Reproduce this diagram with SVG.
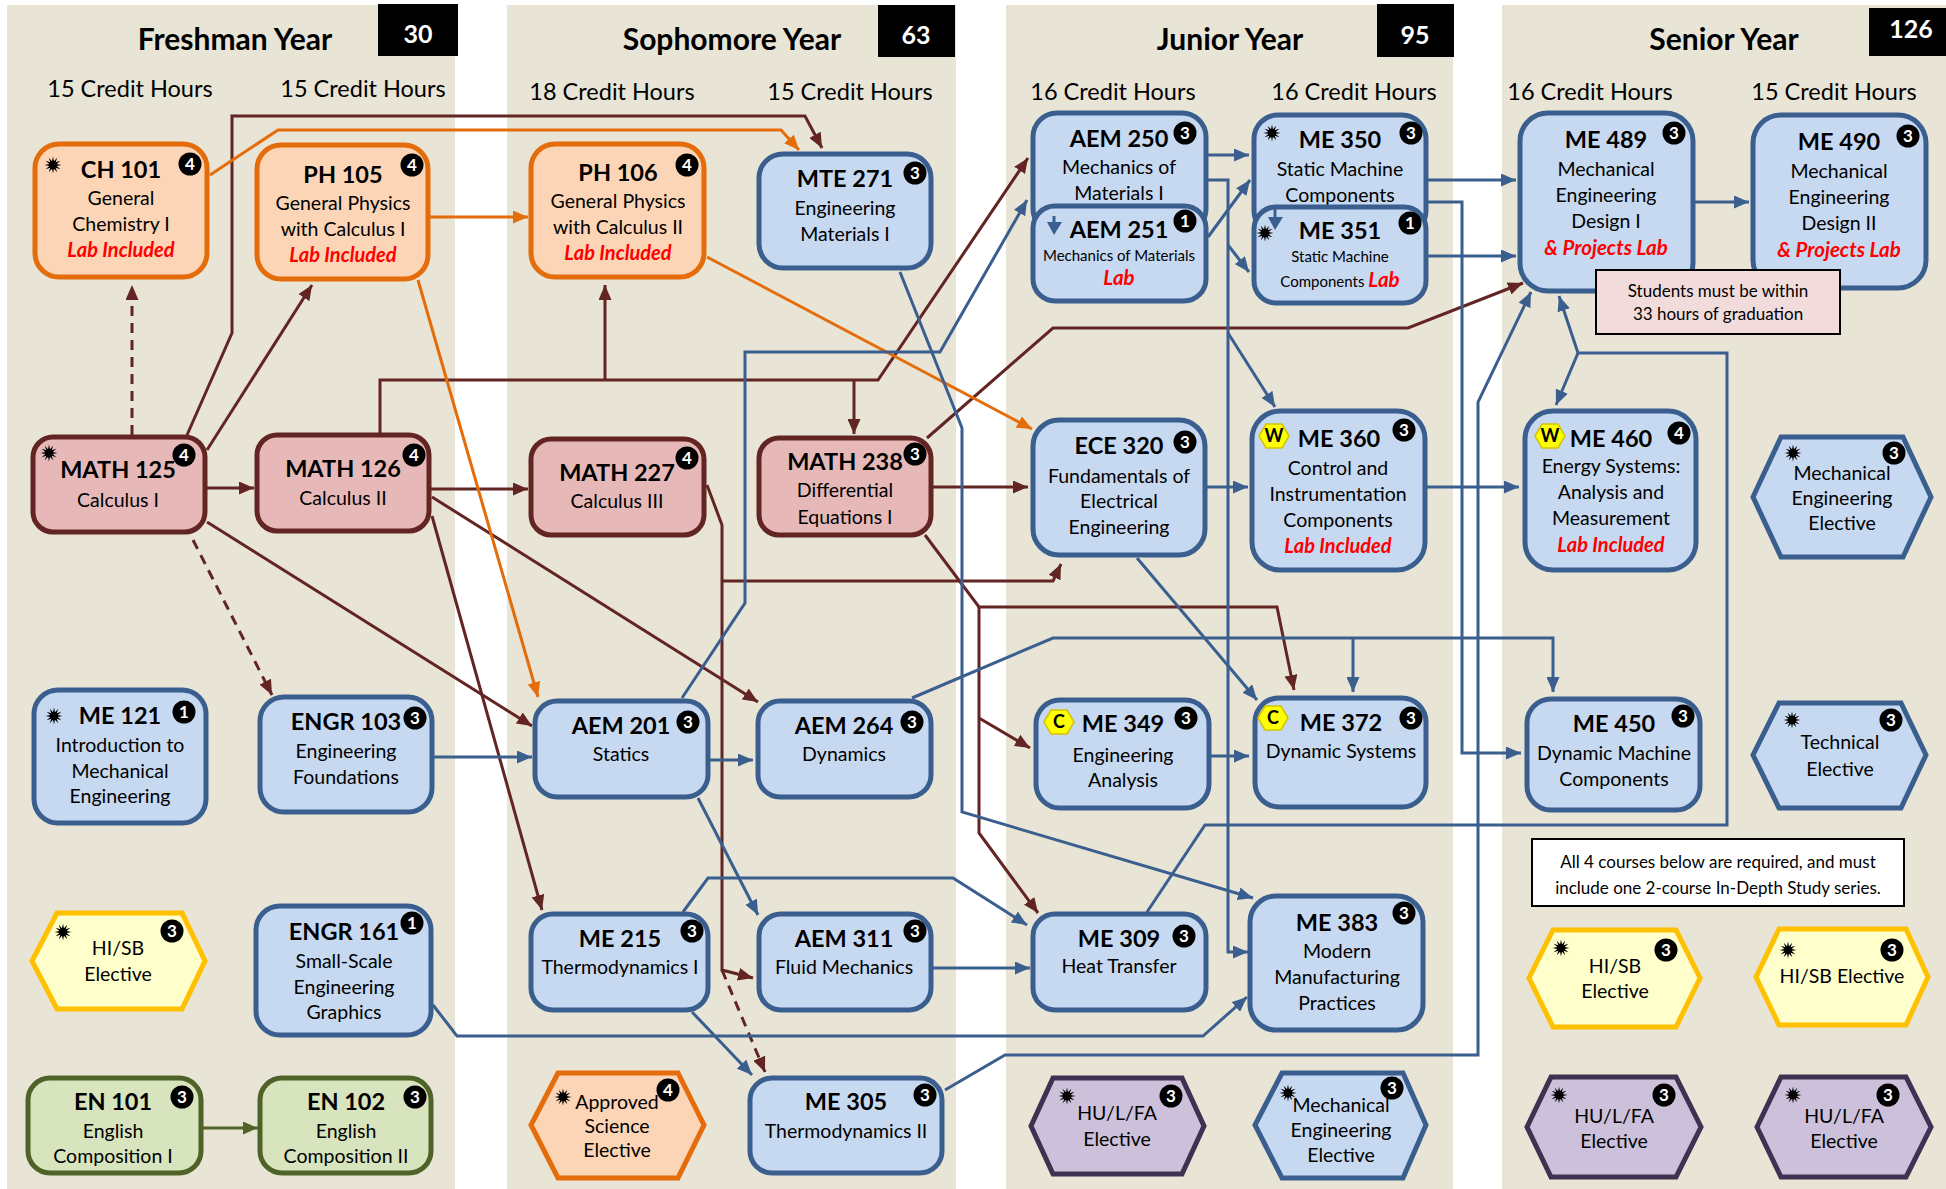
<svg xmlns="http://www.w3.org/2000/svg" width="1946" height="1189" viewBox="0 0 1946 1189">
<style>
.bg{fill:#E8E4D6}
.t{font-family:Lato,'Open Sans',sans-serif;text-anchor:middle;fill:#000}
.hd{font-size:30px;font-weight:700}
.cr{font-size:23.5px}
.tot{font-size:25px;font-weight:700;fill:#fff}
.c{font-size:23.5px;font-weight:700}
.s{font-size:19.5px}
.xs{font-size:15px}
.lab{font-size:20px;font-weight:700;font-style:italic;fill:#f00}
.labL{font-size:20.5px;font-weight:700;font-style:italic;fill:#f00}
.nt{font-size:17px}
.nb{fill:#C6D9F1;stroke:#3A5F8E;stroke-width:5}
.no{fill:#FBD5B5;stroke:#E46C0A;stroke-width:5}
.nm{fill:#E6B9B8;stroke:#632523;stroke-width:5}
.ng{fill:#D7E4BD;stroke:#4F6228;stroke-width:5}
.ny{fill:#FFFFCC;stroke:#FFC000;stroke-width:5}
.np{fill:#CCC0DA;stroke:#3F3151;stroke-width:5}
.bd{fill:#000}
.bn{font-family:Lato,'Open Sans',sans-serif;font-size:17px;font-weight:700;fill:#fff;text-anchor:middle}
.hx{fill:#FFFF00;stroke:#D4C400;stroke-width:1.5}
.hl{font-size:18px;font-weight:700}
.cm{fill:none;stroke:#632523;stroke-width:3}
.co{fill:none;stroke:#E46C0A;stroke-width:3}
.cb{fill:none;stroke:#3A5F8E;stroke-width:3}
.cg{fill:none;stroke:#4F6228;stroke-width:3}
.d{stroke-dasharray:10 7}
.am{marker-end:url(#am)}
.ao{marker-end:url(#ao)}
.ab{marker-end:url(#ab)}
.ag{marker-end:url(#ag)}
.note{fill:#F2DCDB;stroke:#000;stroke-width:2}
.note2{fill:#fff;stroke:#000;stroke-width:2}
</style>
<defs>
<marker id="am" viewBox="0 0 10 10" refX="10" refY="5" markerWidth="15" markerHeight="13" markerUnits="userSpaceOnUse" orient="auto" preserveAspectRatio="none"><path d="M0,0L10,5L0,10z" fill="#632523"/></marker>
<marker id="ao" viewBox="0 0 10 10" refX="10" refY="5" markerWidth="15" markerHeight="13" markerUnits="userSpaceOnUse" orient="auto" preserveAspectRatio="none"><path d="M0,0L10,5L0,10z" fill="#E46C0A"/></marker>
<marker id="ab" viewBox="0 0 10 10" refX="10" refY="5" markerWidth="15" markerHeight="13" markerUnits="userSpaceOnUse" orient="auto" preserveAspectRatio="none"><path d="M0,0L10,5L0,10z" fill="#3A5F8E"/></marker>
<marker id="ag" viewBox="0 0 10 10" refX="10" refY="5" markerWidth="15" markerHeight="13" markerUnits="userSpaceOnUse" orient="auto" preserveAspectRatio="none"><path d="M0,0L10,5L0,10z" fill="#4F6228"/></marker>
<polygon id="star" fill="#000" points="8.5,0 3.67,0.98 7.36,4.25 2.69,2.69 4.25,7.36 0.98,3.67 0,8.5 -0.98,3.67 -4.25,7.36 -2.69,2.69 -7.36,4.25 -3.67,0.98 -8.5,0 -3.67,-0.98 -7.36,-4.25 -2.69,-2.69 -4.25,-7.36 -0.98,-3.67 0,-8.5 0.98,-3.67 4.25,-7.36 2.69,-2.69 7.36,-4.25 3.67,-0.98"/>
</defs>
<rect width="1946" height="1189" fill="#fff"/>
<g id="columns">
<rect class="bg" x="7" y="5" width="448" height="1184"/>
<rect class="bg" x="507" y="5" width="449" height="1184"/>
<rect class="bg" x="1006" y="5" width="447" height="1184"/>
<rect class="bg" x="1502" y="5" width="444" height="1184"/>
<rect x="378" y="4" width="80" height="52" fill="#000"/>
<rect x="878" y="5" width="77" height="52" fill="#000"/>
<rect x="1377" y="4" width="77" height="53" fill="#000"/>
<rect x="1869" y="8" width="77" height="48" fill="#000"/>
<text class="t tot" x="418" y="43">30</text>
<text class="t tot" x="916" y="44">63</text>
<text class="t tot" x="1415" y="44">95</text>
<text class="t tot" x="1911" y="38">126</text>
<text class="t hd" x="235" y="50">Freshman Year</text>
<text class="t hd" x="732" y="50">Sophomore Year</text>
<text class="t hd" x="1230" y="50">Junior Year</text>
<text class="t hd" x="1724" y="50">Senior Year</text>
<text class="t cr" x="130" y="97">15 Credit Hours</text>
<text class="t cr" x="363" y="97">15 Credit Hours</text>
<text class="t cr" x="612" y="100">18 Credit Hours</text>
<text class="t cr" x="850" y="100">15 Credit Hours</text>
<text class="t cr" x="1113" y="100">16 Credit Hours</text>
<text class="t cr" x="1354" y="100">16 Credit Hours</text>
<text class="t cr" x="1590" y="100">16 Credit Hours</text>
<text class="t cr" x="1834" y="100">15 Credit Hours</text>
</g>
<g id="connectors">
<path class="cm am" d="M187,435 L232,333 L232,116 L805,116 L822,148"/>
<path class="cm am" d="M207,450 L312,285"/>
<path class="cm am d" d="M132,435 L132,285"/>
<path class="cm am" d="M207,488 L254,488"/>
<path class="cm am d" d="M193,540 L272,695"/>
<path class="cm am" d="M207,522 L532,726"/>
<path class="cm am" d="M380,433 L380,380 L878,380 L1028,158"/>
<path class="cm am" d="M605,380 L605,285"/>
<path class="cm am" d="M854,380 L854,434"/>
<path class="cm am" d="M431,489 L528,489"/>
<path class="cm am" d="M432,497 L758,702"/>
<path class="cm am" d="M432,516 L542,910"/>
<path class="cm am" d="M707,485 L722,525 L722,970 L753,978"/>
<path class="cm am" d="M722,581 L1053,581 L1061,564"/>
<path class="cm am d" d="M722,970 L765,1072"/>
<path class="cm am" d="M927,438 L1053,328 L1408,328 L1523,283"/>
<path class="cm am" d="M933,487 L1028,487"/>
<path class="cm am" d="M925,535 L979,607 L1277,607 L1294,690"/>
<path class="cm am" d="M979,607 L979,833 L1038,913"/>
<path class="cm am" d="M979,718 L1030,748"/>
<path class="co ao" d="M210,175 L278,130 L781,130 L799,150"/>
<path class="co ao" d="M430,217 L528,217"/>
<path class="co ao" d="M418,280 L538,697"/>
<path class="co ao" d="M707,257 L1032,429"/>
<path class="cb ab" d="M900,272 L962,428 L962,812 L1253,898"/>
<path class="cb ab" d="M682,698 L745,603 L745,352 L940,352 L1027,200"/>
<path class="cb ab" d="M710,760 L753,760"/>
<path class="cb ab" d="M434,757 L532,757"/>
<path class="cb ab" d="M698,798 L758,915"/>
<path class="cb ab" d="M912,698 L1053,638 L1553,638 L1553,692"/>
<path class="cb ab" d="M1353,638 L1353,692"/>
<path class="cb ab" d="M1207,487 L1248,487"/>
<path class="cb ab" d="M1137,558 L1257,700"/>
<path class="cb ab" d="M1211,756 L1249,756"/>
<path class="cb ab" d="M1427,487 L1519,487"/>
<path class="cb ab" d="M1208,155 L1249,155"/>
<path class="cb ab" d="M1208,180 L1228,180 L1228,952 L1248,952"/>
<path class="cb ab" d="M1228,245 L1249,272"/>
<path class="cb ab" d="M1228,333 L1275,407"/>
<path class="cb ab" d="M1208,237 L1250,180"/>
<path class="cb ab" d="M1428,180 L1516,180"/>
<path class="cb ab" d="M1428,202 L1462,202 L1462,753 L1521,753"/>
<path class="cb ab" d="M1428,256 L1516,256"/>
<path class="cb ab" d="M1695,202 L1749,202"/>
<path class="cb ab" d="M1147,912 L1205,825 L1727,825 L1727,353 L1578,353 L1559,296"/>
<path class="cb ab" d="M1578,353 L1556,405"/>
<path class="cb ab" d="M945,1090 L1005,1055 L1478,1055 L1478,402 L1531,292"/>
<path class="cb ab" d="M683,912 L708,878 L953,878 L1027,925"/>
<path class="cb ab" d="M692,1012 L752,1075"/>
<path class="cb ab" d="M933,968 L1030,968"/>
<path class="cb ab" d="M433,1005 L457,1036 L1203,1036 L1247,997"/>
<path class="cg ag" d="M203,1128 L258,1128"/>
</g>
<g id="CH101">
<rect class="no" x="35" y="144" width="172" height="133" rx="24"/>
<use href="#star" x="53" y="165"/>
<circle class="bd" cx="190" cy="164" r="11.5"/><text class="bn" x="190" y="170">4</text>
<text class="t c" x="121" y="178">CH 101</text>
<text class="t s" x="121" y="205">General</text>
<text class="t s" x="121" y="231">Chemistry I</text>
<text class="t lab" x="121" y="257">Lab Included</text>
</g>
<g id="PH105">
<rect class="no" x="257" y="145" width="171" height="134" rx="24"/>
<circle class="bd" cx="412" cy="165" r="11.5"/><text class="bn" x="412" y="171">4</text>
<text class="t c" x="343" y="183">PH 105</text>
<text class="t s" x="343" y="210">General Physics</text>
<text class="t s" x="343" y="236">with Calculus I</text>
<text class="t lab" x="343" y="262">Lab Included</text>
</g>
<g id="PH106">
<rect class="no" x="531" y="144" width="173" height="133" rx="24"/>
<circle class="bd" cx="687" cy="165" r="11.5"/><text class="bn" x="687" y="171">4</text>
<text class="t c" x="618" y="181">PH 106</text>
<text class="t s" x="618" y="208">General Physics</text>
<text class="t s" x="618" y="234">with Calculus II</text>
<text class="t lab" x="618" y="260">Lab Included</text>
</g>
<g id="MTE271">
<rect class="nb" x="759" y="154" width="172" height="114" rx="24"/>
<circle class="bd" cx="915" cy="173" r="11.5"/><text class="bn" x="915" y="179">3</text>
<text class="t c" x="845" y="187">MTE 271</text>
<text class="t s" x="845" y="215">Engineering</text>
<text class="t s" x="845" y="241">Materials I</text>
</g>
<g id="AEM250">
<rect class="nb" x="1033" y="113" width="173" height="120" rx="24"/>
<circle class="bd" cx="1185" cy="133" r="11.5"/><text class="bn" x="1185" y="139">3</text>
<text class="t c" x="1119" y="147">AEM 250</text>
<text class="t s" x="1119" y="174">Mechanics of</text>
<text class="t s" x="1119" y="200">Materials I</text>
</g>
<g id="AEM251">
<rect class="nb" x="1033" y="206" width="173" height="95" rx="22"/>
<path d="M1054,216 L1054,223" stroke="#3A5F8E" stroke-width="3"/>
<polygon points="1047,222 1062,222 1054,235" fill="#3A5F8E"/>
<circle class="bd" cx="1185" cy="221" r="11.5"/><text class="bn" x="1185" y="227">1</text>
<text class="t c" x="1119" y="238">AEM 251</text>
<text class="t xs" x="1119" y="261">Mechanics of Materials</text>
<text class="t labL" x="1119" y="285">Lab</text>
</g>
<g id="ME350">
<rect class="nb" x="1254" y="115" width="172" height="120" rx="24"/>
<use href="#star" x="1272" y="133"/>
<circle class="bd" cx="1411" cy="133" r="11.5"/><text class="bn" x="1411" y="139">3</text>
<text class="t c" x="1340" y="148">ME 350</text>
<text class="t s" x="1340" y="176">Static Machine</text>
<text class="t s" x="1340" y="202">Components</text>
</g>
<g id="ME351">
<rect class="nb" x="1254" y="207" width="172" height="96" rx="22"/>
<path d="M1275,207 L1275,218" stroke="#3A5F8E" stroke-width="3"/>
<polygon points="1268,217 1283,217 1275,230" fill="#3A5F8E"/>
<use href="#star" x="1265" y="233"/>
<circle class="bd" cx="1410" cy="223" r="11.5"/><text class="bn" x="1410" y="229">1</text>
<text class="t c" x="1340" y="239">ME 351</text>
<text class="t xs" x="1340" y="262">Static Machine</text>
<text class="t" x="1340" y="287"><tspan class="xs">Components </tspan><tspan class="labL">Lab</tspan></text>
</g>
<g id="ME489">
<rect class="nb" x="1520" y="113" width="173" height="178" rx="28"/>
<circle class="bd" cx="1674" cy="133" r="11.5"/><text class="bn" x="1674" y="139">3</text>
<text class="t c" x="1606" y="148">ME 489</text>
<text class="t s" x="1606" y="176">Mechanical</text>
<text class="t s" x="1606" y="202">Engineering</text>
<text class="t s" x="1606" y="228">Design I</text>
<text class="t labL" x="1606" y="255">&amp; Projects Lab</text>
</g>
<g id="ME490">
<rect class="nb" x="1753" y="115" width="173" height="173" rx="28"/>
<circle class="bd" cx="1908" cy="136" r="11.5"/><text class="bn" x="1908" y="142">3</text>
<text class="t c" x="1839" y="150">ME 490</text>
<text class="t s" x="1839" y="178">Mechanical</text>
<text class="t s" x="1839" y="204">Engineering</text>
<text class="t s" x="1839" y="230">Design II</text>
<text class="t labL" x="1839" y="257">&amp; Projects Lab</text>
</g>
<g id="note-grad">
<rect class="note" x="1596" y="270" width="244" height="64"/>
<text class="t nt" x="1718" y="297">Students must be within</text>
<text class="t nt" x="1718" y="320">33 hours of graduation</text>
</g>
<g id="MATH125">
<rect class="nm" x="33" y="437" width="172" height="95" rx="20"/>
<use href="#star" x="49" y="453"/>
<circle class="bd" cx="184" cy="455" r="11.5"/><text class="bn" x="184" y="461">4</text>
<text class="t c" x="118" y="478">MATH 125</text>
<text class="t s" x="118" y="507">Calculus I</text>
</g>
<g id="MATH126">
<rect class="nm" x="257" y="435" width="172" height="96" rx="20"/>
<circle class="bd" cx="414" cy="455" r="11.5"/><text class="bn" x="414" y="461">4</text>
<text class="t c" x="343" y="477">MATH 126</text>
<text class="t s" x="343" y="505">Calculus II</text>
</g>
<g id="MATH227">
<rect class="nm" x="531" y="439" width="173" height="96" rx="20"/>
<circle class="bd" cx="687" cy="458" r="11.5"/><text class="bn" x="687" y="464">4</text>
<text class="t c" x="617" y="481">MATH 227</text>
<text class="t s" x="617" y="508">Calculus III</text>
</g>
<g id="MATH238">
<rect class="nm" x="759" y="438" width="172" height="97" rx="20"/>
<circle class="bd" cx="915" cy="454" r="11.5"/><text class="bn" x="915" y="460">3</text>
<text class="t c" x="845" y="470">MATH 238</text>
<text class="t s" x="845" y="497">Differential</text>
<text class="t s" x="845" y="524">Equations I</text>
</g>
<g id="ECE320">
<rect class="nb" x="1033" y="420" width="172" height="135" rx="26"/>
<circle class="bd" cx="1185" cy="442" r="11.5"/><text class="bn" x="1185" y="448">3</text>
<text class="t c" x="1119" y="454">ECE 320</text>
<text class="t s" x="1119" y="483">Fundamentals of</text>
<text class="t s" x="1119" y="508">Electrical</text>
<text class="t s" x="1119" y="534">Engineering</text>
</g>
<g id="ME360">
<rect class="nb" x="1252" y="411" width="173" height="159" rx="28"/>
<polygon class="hx" points="1259,436 1266,424 1282,424 1289,436 1282,448 1266,448"/>
<text class="t hl" x="1274" y="442">W</text>
<circle class="bd" cx="1404" cy="430" r="11.5"/><text class="bn" x="1404" y="436">3</text>
<text class="t c" x="1339" y="447">ME 360</text>
<text class="t s" x="1338" y="475">Control and</text>
<text class="t s" x="1338" y="501">Instrumentation</text>
<text class="t s" x="1338" y="527">Components</text>
<text class="t lab" x="1338" y="553">Lab Included</text>
</g>
<g id="ME460">
<rect class="nb" x="1525" y="411" width="171" height="159" rx="28"/>
<polygon class="hx" points="1535,436 1542,424 1558,424 1565,436 1558,448 1542,448"/>
<text class="t hl" x="1550" y="442">W</text>
<circle class="bd" cx="1679" cy="433" r="11.5"/><text class="bn" x="1679" y="439">4</text>
<text class="t c" x="1611" y="447">ME 460</text>
<text class="t s" x="1611" y="473">Energy Systems:</text>
<text class="t s" x="1611" y="499">Analysis and</text>
<text class="t s" x="1611" y="525">Measurement</text>
<text class="t lab" x="1611" y="552">Lab Included</text>
</g>
<g id="MechElec-sr">
<polygon class="nb" points="1753,497 1781,437 1903,437 1931,497 1903,557 1781,557"/>
<use href="#star" x="1793" y="453"/>
<circle class="bd" cx="1894" cy="453" r="11.5"/><text class="bn" x="1894" y="459">3</text>
<text class="t s" x="1842" y="480">Mechanical</text>
<text class="t s" x="1842" y="505">Engineering</text>
<text class="t s" x="1842" y="530">Elective</text>
</g>
<g id="ME121">
<rect class="nb" x="34" y="690" width="172" height="133" rx="24"/>
<use href="#star" x="54" y="716"/>
<circle class="bd" cx="184" cy="712" r="11.5"/><text class="bn" x="184" y="718">1</text>
<text class="t c" x="120" y="724">ME 121</text>
<text class="t s" x="120" y="752">Introduction to</text>
<text class="t s" x="120" y="778">Mechanical</text>
<text class="t s" x="120" y="803">Engineering</text>
</g>
<g id="ENGR103">
<rect class="nb" x="260" y="697" width="172" height="115" rx="24"/>
<circle class="bd" cx="415" cy="718" r="11.5"/><text class="bn" x="415" y="724">3</text>
<text class="t c" x="346" y="730">ENGR 103</text>
<text class="t s" x="346" y="758">Engineering</text>
<text class="t s" x="346" y="784">Foundations</text>
</g>
<g id="AEM201">
<rect class="nb" x="535" y="701" width="173" height="96" rx="22"/>
<circle class="bd" cx="688" cy="722" r="11.5"/><text class="bn" x="688" y="728">3</text>
<text class="t c" x="621" y="734">AEM 201</text>
<text class="t s" x="621" y="761">Statics</text>
</g>
<g id="AEM264">
<rect class="nb" x="758" y="701" width="173" height="96" rx="22"/>
<circle class="bd" cx="912" cy="722" r="11.5"/><text class="bn" x="912" y="728">3</text>
<text class="t c" x="844" y="734">AEM 264</text>
<text class="t s" x="844" y="761">Dynamics</text>
</g>
<g id="ME349">
<rect class="nb" x="1036" y="700" width="173" height="108" rx="24"/>
<polygon class="hx" points="1044,722 1051,710 1067,710 1074,722 1067,734 1051,734"/>
<text class="t hl" x="1059" y="728">C</text>
<circle class="bd" cx="1186" cy="718" r="11.5"/><text class="bn" x="1186" y="724">3</text>
<text class="t c" x="1123" y="732">ME 349</text>
<text class="t s" x="1123" y="762">Engineering</text>
<text class="t s" x="1123" y="787">Analysis</text>
</g>
<g id="ME372">
<rect class="nb" x="1255" y="698" width="171" height="109" rx="24"/>
<polygon class="hx" points="1258,718 1265,706 1281,706 1288,718 1281,730 1265,730"/>
<text class="t hl" x="1273" y="724">C</text>
<circle class="bd" cx="1411" cy="718" r="11.5"/><text class="bn" x="1411" y="724">3</text>
<text class="t c" x="1341" y="731">ME 372</text>
<text class="t s" x="1341" y="758">Dynamic Systems</text>
</g>
<g id="ME450">
<rect class="nb" x="1527" y="699" width="173" height="111" rx="24"/>
<circle class="bd" cx="1683" cy="716" r="11.5"/><text class="bn" x="1683" y="722">3</text>
<text class="t c" x="1614" y="732">ME 450</text>
<text class="t s" x="1614" y="760">Dynamic Machine</text>
<text class="t s" x="1614" y="786">Components</text>
</g>
<g id="TechElec">
<polygon class="nb" points="1753,755 1779,703 1901,703 1926,755 1901,808 1779,808"/>
<use href="#star" x="1792" y="720"/>
<circle class="bd" cx="1891" cy="720" r="11.5"/><text class="bn" x="1891" y="726">3</text>
<text class="t s" x="1840" y="749">Technical</text>
<text class="t s" x="1840" y="776">Elective</text>
</g>
<g id="HISB-fr">
<polygon class="ny" points="32,961 57,913 182,913 205,961 182,1009 57,1009"/>
<use href="#star" x="63" y="932"/>
<circle class="bd" cx="172" cy="931" r="11.5"/><text class="bn" x="172" y="937">3</text>
<text class="t s" x="118" y="955">HI/SB</text>
<text class="t s" x="118" y="981">Elective</text>
</g>
<g id="ENGR161">
<rect class="nb" x="256" y="906" width="175" height="129" rx="24"/>
<circle class="bd" cx="412" cy="923" r="11.5"/><text class="bn" x="412" y="929">1</text>
<text class="t c" x="344" y="940">ENGR 161</text>
<text class="t s" x="344" y="968">Small-Scale</text>
<text class="t s" x="344" y="994">Engineering</text>
<text class="t s" x="344" y="1019">Graphics</text>
</g>
<g id="ME215">
<rect class="nb" x="531" y="914" width="177" height="96" rx="22"/>
<circle class="bd" cx="692" cy="931" r="11.5"/><text class="bn" x="692" y="937">3</text>
<text class="t c" x="620" y="947">ME 215</text>
<text class="t s" x="620" y="974">Thermodynamics I</text>
</g>
<g id="AEM311">
<rect class="nb" x="759" y="914" width="172" height="96" rx="22"/>
<circle class="bd" cx="915" cy="931" r="11.5"/><text class="bn" x="915" y="937">3</text>
<text class="t c" x="844" y="947">AEM 311</text>
<text class="t s" x="844" y="974">Fluid Mechanics</text>
</g>
<g id="ME309">
<rect class="nb" x="1033" y="914" width="173" height="96" rx="22"/>
<circle class="bd" cx="1184" cy="936" r="11.5"/><text class="bn" x="1184" y="942">3</text>
<text class="t c" x="1119" y="947">ME 309</text>
<text class="t s" x="1119" y="973">Heat Transfer</text>
</g>
<g id="ME383">
<rect class="nb" x="1250" y="896" width="173" height="134" rx="26"/>
<circle class="bd" cx="1404" cy="913" r="11.5"/><text class="bn" x="1404" y="919">3</text>
<text class="t c" x="1337" y="931">ME 383</text>
<text class="t s" x="1337" y="958">Modern</text>
<text class="t s" x="1337" y="984">Manufacturing</text>
<text class="t s" x="1337" y="1010">Practices</text>
</g>
<g id="note-all4">
<rect class="note2" x="1532" y="839" width="372" height="67"/>
<text class="t nt" x="1718" y="868">All 4 courses below are required, and must</text>
<text class="t nt" x="1718" y="894">include one 2-course In-Depth Study series.</text>
</g>
<g id="HISB-sr1">
<polygon class="ny" points="1529,978 1553,930 1676,930 1700,978 1676,1027 1553,1027"/>
<use href="#star" x="1561" y="948"/>
<circle class="bd" cx="1666" cy="950" r="11.5"/><text class="bn" x="1666" y="956">3</text>
<text class="t s" x="1615" y="973">HI/SB</text>
<text class="t s" x="1615" y="998">Elective</text>
</g>
<g id="HISB-sr2">
<polygon class="ny" points="1756,977 1779,929 1906,929 1928,977 1906,1025 1779,1025"/>
<use href="#star" x="1788" y="950"/>
<circle class="bd" cx="1892" cy="950" r="11.5"/><text class="bn" x="1892" y="956">3</text>
<text class="t s" x="1842" y="983">HI/SB Elective</text>
</g>
<g id="EN101">
<rect class="ng" x="28" y="1078" width="173" height="95" rx="22"/>
<circle class="bd" cx="182" cy="1097" r="11.5"/><text class="bn" x="182" y="1103">3</text>
<text class="t c" x="113" y="1110">EN 101</text>
<text class="t s" x="113" y="1138">English</text>
<text class="t s" x="113" y="1163">Composition I</text>
</g>
<g id="EN102">
<rect class="ng" x="260" y="1078" width="171" height="95" rx="22"/>
<circle class="bd" cx="415" cy="1097" r="11.5"/><text class="bn" x="415" y="1103">3</text>
<text class="t c" x="346" y="1110">EN 102</text>
<text class="t s" x="346" y="1138">English</text>
<text class="t s" x="346" y="1163">Composition II</text>
</g>
<g id="ApprovedSci">
<polygon class="no" points="531,1125 558,1073 678,1073 704,1125 678,1178 558,1178"/>
<use href="#star" x="563" y="1097"/>
<circle class="bd" cx="668" cy="1090" r="11.5"/><text class="bn" x="668" y="1096">4</text>
<text class="t s" x="617" y="1109">Approved</text>
<text class="t s" x="617" y="1133">Science</text>
<text class="t s" x="617" y="1157">Elective</text>
</g>
<g id="ME305">
<rect class="nb" x="750" y="1078" width="192" height="95" rx="22"/>
<circle class="bd" cx="925" cy="1095" r="11.5"/><text class="bn" x="925" y="1101">3</text>
<text class="t c" x="846" y="1110">ME 305</text>
<text class="t s" x="846" y="1138">Thermodynamics II</text>
</g>
<g id="HULFA-jr">
<polygon class="np" points="1031,1126 1053,1078 1182,1078 1204,1126 1182,1174 1053,1174"/>
<use href="#star" x="1067" y="1096"/>
<circle class="bd" cx="1171" cy="1096" r="11.5"/><text class="bn" x="1171" y="1102">3</text>
<text class="t s" x="1117" y="1120">HU/L/FA</text>
<text class="t s" x="1117" y="1146">Elective</text>
</g>
<g id="MechElec-jr">
<polygon class="nb" points="1255,1125 1282,1073 1403,1073 1426,1125 1403,1178 1282,1178"/>
<use href="#star" x="1288" y="1093"/>
<circle class="bd" cx="1392" cy="1088" r="11.5"/><text class="bn" x="1392" y="1094">3</text>
<text class="t s" x="1341" y="1112">Mechanical</text>
<text class="t s" x="1341" y="1137">Engineering</text>
<text class="t s" x="1341" y="1162">Elective</text>
</g>
<g id="HULFA-sr1">
<polygon class="np" points="1527,1127 1551,1077 1676,1077 1701,1127 1676,1177 1551,1177"/>
<use href="#star" x="1559" y="1095"/>
<circle class="bd" cx="1664" cy="1095" r="11.5"/><text class="bn" x="1664" y="1101">3</text>
<text class="t s" x="1614" y="1123">HU/L/FA</text>
<text class="t s" x="1614" y="1148">Elective</text>
</g>
<g id="HULFA-sr2">
<polygon class="np" points="1757,1127 1781,1077 1906,1077 1931,1127 1906,1177 1781,1177"/>
<use href="#star" x="1793" y="1095"/>
<circle class="bd" cx="1888" cy="1095" r="11.5"/><text class="bn" x="1888" y="1101">3</text>
<text class="t s" x="1844" y="1123">HU/L/FA</text>
<text class="t s" x="1844" y="1148">Elective</text>
</g>
</svg>
